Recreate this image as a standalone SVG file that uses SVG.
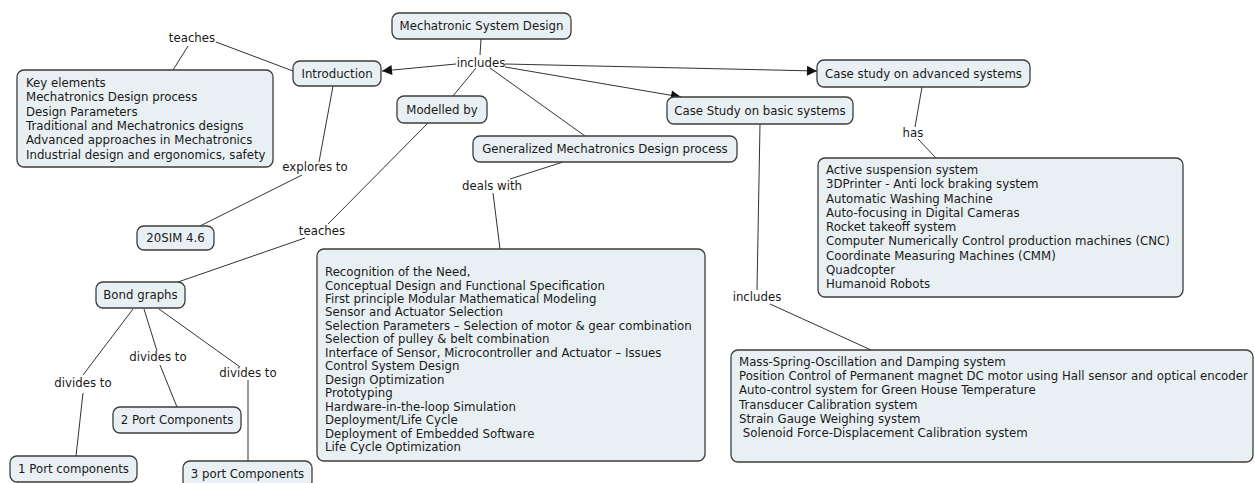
<svg xmlns="http://www.w3.org/2000/svg" width="1255" height="483" viewBox="0 0 1255 483">
  <style>
    .node rect { fill: #e9f0f3; stroke: #3c3c3c; stroke-width: 1.3; }
    text { font-family: "DejaVu Sans", Verdana, sans-serif; font-size: 11.75px; fill: #1a1a1a; }
    .c { text-anchor: middle; }
    .link { fill: none; stroke: #333333; stroke-width: 1; }
  </style>
  <defs>
    <marker id="arrow" viewBox="0 0 10 10" refX="10" refY="5" markerWidth="11" markerHeight="10" markerUnits="userSpaceOnUse" orient="auto">
      <path d="M0,0 L10,5 L0,10 Z" fill="#111111"/>
    </marker>
  </defs>

  <!-- connectors and linking phrases -->
  <g id="connectors">
    <path class="link" d="M481,39 L480,55"/>
    <path class="link" d="M456,64 L382,71" marker-end="url(#arrow)"/>
    <path class="link" d="M505,64 L817,71" marker-end="url(#arrow)"/>
    <path class="link" d="M505,67 L681,97" marker-end="url(#arrow)"/>
    <path class="link" d="M476,68 L453,96"/>
    <path class="link" d="M490,68 L585,136"/>
    <path class="link" d="M293,71 L216,42"/>
    <path class="link" d="M188,46 L173,70"/>
    <path class="link" d="M333,86 L319,162"/>
    <path class="link" d="M302,175 L200,226"/>
    <path class="link" d="M428,123 L328,224"/>
    <path class="link" d="M305,238 L178,282"/>
    <path class="link" d="M563,162 L510,179"/>
    <path class="link" d="M493,193 L500,249"/>
    <path class="link" d="M133,309 L83,375"/>
    <path class="link" d="M83,393 L76,456"/>
    <path class="link" d="M144,309 L157,351"/>
    <path class="link" d="M160,365 L177,407"/>
    <path class="link" d="M159,309 L240,367"/>
    <path class="link" d="M248,380 L248,461"/>
    <path class="link" d="M760,124 L757,290"/>
    <path class="link" d="M770,304 L871,350"/>
    <path class="link" d="M922,87 L915,127"/>
    <path class="link" d="M918,139 L936,158"/>

    <text class="c" x="481" y="67">includes</text>
    <text class="c" x="192" y="42">teaches</text>
    <text class="c" x="315" y="171">explores to</text>
    <text class="c" x="322" y="235">teaches</text>
    <text class="c" x="492" y="190">deals with</text>
    <text class="c" x="913" y="137">has</text>
    <text class="c" x="757" y="301">includes</text>
    <text class="c" x="83" y="387">divides to</text>
    <text class="c" x="158" y="361">divides to</text>
    <text class="c" x="248" y="377">divides to</text>
  </g>

  <g id="mechatronic-system-design" class="node">
    <rect x="392" y="13" width="179" height="26" rx="7"/>
    <text class="c" x="481.5" y="30">Mechatronic System Design</text>
  </g>

  <g id="introduction" class="node">
    <rect x="293" y="61" width="88" height="25" rx="7"/>
    <text class="c" x="337" y="78">Introduction</text>
  </g>

  <g id="intro-topics" class="node">
    <rect x="17" y="70" width="256" height="97" rx="7"/>
    <text x="26" y="87">Key elements</text>
    <text x="26" y="101.3">Mechatronics Design process</text>
    <text x="26" y="115.6">Design Parameters</text>
    <text x="26" y="129.9">Traditional and Mechatronics designs</text>
    <text x="26" y="144.2">Advanced approaches in Mechatronics</text>
    <text x="26" y="158.5">Industrial design and ergonomics, safety</text>
  </g>

  <g id="modelled-by" class="node">
    <rect x="397" y="96" width="90" height="27" rx="7"/>
    <text class="c" x="442" y="113.5">Modelled by</text>
  </g>

  <g id="generalized-process" class="node">
    <rect x="473" y="136" width="264" height="26" rx="7"/>
    <text class="c" x="605" y="153">Generalized Mechatronics Design process</text>
  </g>

  <g id="case-basic" class="node">
    <rect x="667" y="97" width="186" height="27" rx="7"/>
    <text class="c" x="760" y="114.5">Case Study on basic systems</text>
  </g>

  <g id="case-advanced" class="node">
    <rect x="817" y="60" width="213" height="27" rx="7"/>
    <text class="c" x="923.5" y="77.5">Case study on advanced systems</text>
  </g>

  <g id="advanced-systems" class="node">
    <rect x="818" y="158" width="365" height="139" rx="7"/>
    <text x="826" y="174">Active suspension system</text>
    <text x="826" y="188.25">3DPrinter - Anti lock braking system</text>
    <text x="826" y="202.5">Automatic Washing Machine</text>
    <text x="826" y="216.75">Auto-focusing in Digital Cameras</text>
    <text x="826" y="231">Rocket takeoff system</text>
    <text x="826" y="245.25">Computer Numerically Control production machines (CNC)</text>
    <text x="826" y="259.5">Coordinate Measuring Machines (CMM)</text>
    <text x="826" y="273.75">Quadcopter</text>
    <text x="826" y="288">Humanoid Robots</text>
  </g>

  <g id="design-steps" class="node">
    <rect x="317" y="249" width="388" height="212" rx="7"/>
    <text x="325" y="276">Recognition of the Need,</text>
    <text x="325" y="289.5">Conceptual Design and Functional Specification</text>
    <text x="325" y="303">First principle Modular Mathematical Modeling</text>
    <text x="325" y="316.4">Sensor and Actuator Selection</text>
    <text x="325" y="329.9">Selection Parameters – Selection of motor &amp; gear combination</text>
    <text x="325" y="343.3">Selection of pulley &amp; belt combination</text>
    <text x="325" y="356.8">Interface of Sensor, Microcontroller and Actuator – Issues</text>
    <text x="325" y="370.2">Control System Design</text>
    <text x="325" y="383.7">Design Optimization</text>
    <text x="325" y="397.1">Prototyping</text>
    <text x="325" y="410.6">Hardware-in-the-loop Simulation</text>
    <text x="325" y="424">Deployment/Life Cycle</text>
    <text x="325" y="437.5">Deployment of Embedded Software</text>
    <text x="325" y="451">Life Cycle Optimization</text>
  </g>

  <g id="twentysim" class="node">
    <rect x="137" y="226" width="77" height="24" rx="7"/>
    <text class="c" x="175.5" y="242">20SIM 4.6</text>
  </g>

  <g id="bond-graphs" class="node">
    <rect x="96" y="282" width="89" height="26" rx="7"/>
    <text class="c" x="140.5" y="299">Bond graphs</text>
  </g>

  <g id="two-port" class="node">
    <rect x="113" y="407" width="128" height="26" rx="7"/>
    <text class="c" x="177" y="424">2 Port Components</text>
  </g>

  <g id="one-port" class="node">
    <rect x="10" y="456" width="127" height="26" rx="7"/>
    <text class="c" x="73.5" y="473">1 Port components</text>
  </g>

  <g id="three-port" class="node">
    <rect x="183" y="461" width="129" height="27" rx="7"/>
    <text class="c" x="247.5" y="477.5">3 port Components</text>
  </g>

  <g id="basic-systems" class="node">
    <rect x="731" y="350" width="522" height="112" rx="7"/>
    <text x="739" y="366">Mass-Spring-Oscillation and Damping system</text>
    <text x="739" y="380.2">Position Control of Permanent magnet DC motor using Hall sensor and optical encoder</text>
    <text x="739" y="394.4">Auto-control system for Green House Temperature</text>
    <text x="739" y="408.6">Transducer Calibration system</text>
    <text x="739" y="422.8">Strain Gauge Weighing system</text>
    <text x="739" y="437" xml:space="preserve"> Solenoid Force-Displacement Calibration system</text>
  </g>
</svg>
